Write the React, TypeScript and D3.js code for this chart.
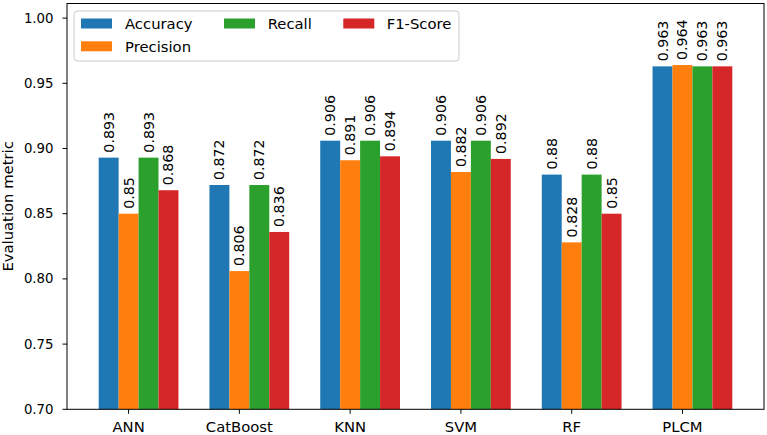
import React from "react";
import * as d3 from "d3";

const categories = ["ANN", "CatBoost", "KNN", "SVM", "RF", "PLCM"];
const seriesNames = ["Accuracy", "Precision", "Recall", "F1-Score"];
const accuracy = [0.893, 0.872, 0.906, 0.906, 0.88, 0.963];
const precision = [0.85, 0.806, 0.891, 0.882, 0.828, 0.964];
const recall = [0.893, 0.872, 0.906, 0.906, 0.88, 0.963];
const f1Score = [0.868, 0.836, 0.894, 0.892, 0.85, 0.963];
const yTicks = [0.7, 0.75, 0.8, 0.85, 0.9, 0.95, 1.0];

const colors = ["#1f77b4", "#ff7f0e", "#2ca02c", "#d62728"];
const FONT = "DejaVu Sans, sans-serif";

export default function App() {
  const W = 767;
  const H = 435;
  const left = 67, right = 764, top = 3.5, bottom = 409.3;
  const series = [accuracy, precision, recall, f1Score];
  const bw = 0.18;
  const lo = -1.5 * bw;
  const hi = categories.length - 1 + 2.5 * bw;
  const pad = 0.05 * (hi - lo);
  const x = d3.scaleLinear().domain([lo - pad, hi + pad]).range([left, right]);
  const y = d3.scaleLinear().domain([0.7, 1.0112]).range([bottom, top]);
  const bwPx = x(bw) - x(0);

  const legendCols = [
    { items: [0, 1], px: 81, tx: 125 },
    { items: [2], px: 224, tx: 267.7 },
    { items: [3], px: 343.3, tx: 386.7 },
  ];
  const rowY = [23.5, 46.3];

  return (
    <svg
      width={W}
      height={H}
      style={{ position: "absolute", left: 0, top: 0, background: "#fff" }}
      fontFamily={FONT}
    >
      <rect x={0} y={0} width={W} height={H} fill="#fff" />
      {/* bars */}
      {series.map((vals, j) =>
        vals.map((v, i) => {
          const cx = x(i + (j - 1) * bw);
          return (
            <rect
              key={`b${j}-${i}`}
              x={cx - bwPx / 2}
              y={y(v)}
              width={bwPx}
              height={bottom - y(v)}
              fill={colors[j]}
            />
          );
        })
      )}
      {/* value labels */}
      {series.map((vals, j) =>
        vals.map((v, i) => {
          const cx = x(i + (j - 1) * bw);
          const ty = y(v) - 5;
          return (
            <text
              key={`t${j}-${i}`}
              transform={`translate(${cx},${ty}) rotate(-90)`}
              fontSize={14.2}
              textAnchor="start"
              dominantBaseline="central"
              fill="#000"
            >
              {String(v)}
            </text>
          );
        })
      )}
      {/* spines */}
      <rect x={left} y={top} width={right - left} height={bottom - top} fill="none" stroke="#000" strokeWidth={1} />
      {/* y ticks */}
      {yTicks.map((t) => (
        <g key={`y${t}`}>
          <line x1={left - 4.5} x2={left} y1={y(t)} y2={y(t)} stroke="#000" strokeWidth={1} />
          <text x={left - 13.5} y={y(t)} fontSize={13.3} textAnchor="end" dominantBaseline="central">
            {t.toFixed(2)}
          </text>
        </g>
      ))}
      {/* x ticks */}
      {categories.map((c, i) => (
        <g key={`x${c}`}>
          <line x1={x(i)} x2={x(i)} y1={bottom} y2={bottom + 4.5} stroke="#000" strokeWidth={1} />
          <text x={x(i)} y={432.3} fontSize={14.8} textAnchor="middle">
            {c}
          </text>
        </g>
      ))}
      {/* y label */}
      <text
        transform={`translate(13.3,${(top + bottom) / 2}) rotate(-90)`}
        fontSize={14.8}
        textAnchor="middle"
      >
        Evaluation metric
      </text>
      {/* legend */}
      <rect x={74} y={11} width={385} height={50} rx={3} fill="#fff" fillOpacity={0.8} stroke="#ccc" strokeWidth={1} />
      {legendCols.map((col, ci) =>
        col.items.map((s, r) => (
          <g key={`l${ci}-${r}`}>
            <rect x={col.px} y={rowY[r] - 5} width={31} height={10} fill={colors[s]} />
            <text x={col.tx} y={rowY[r]} fontSize={14.8} dominantBaseline="central">
              {seriesNames[s]}
            </text>
          </g>
        ))
      )}
    </svg>
  );
}
